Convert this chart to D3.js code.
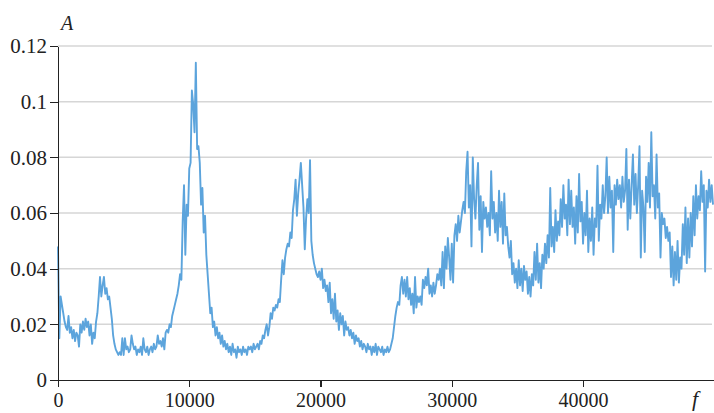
<!DOCTYPE html>
<html>
<head>
<meta charset="utf-8">
<title>Spectrum A(f)</title>
<script src="https://d3js.org/d3.v7.min.js"></script>
<style>
    body { margin: 0; background: #fff; }
    .axis path, .axis line { stroke: #222; stroke-width: 1.3px; shape-rendering: crispEdges; }
    .grid line { stroke: #d6d6d6; stroke-width: 1.5px; }
    .line { fill: none; stroke: #5ca4dc; stroke-width: 1.9px; stroke-linejoin: round; }
</style>
</head>
<body>
<svg id="chart"></svg>
<script>
// sampling of the spectrum (Hz)
var freqStart = 0;
var freqStep = 100;

// amplitude, one value per 100 Hz
var amplitude = [
    0.048, 0.015, 0.030, 0.027, 0.024, 0.021, 0.019, 0.018, 0.023, 0.017,
    0.019, 0.015, 0.018, 0.014, 0.017, 0.016, 0.012, 0.020, 0.017, 0.021,
    0.018, 0.022, 0.019, 0.021, 0.016, 0.020, 0.013, 0.017, 0.015, 0.021,
    0.024, 0.030, 0.037, 0.030, 0.034, 0.037, 0.031, 0.033, 0.029, 0.030,
    0.026, 0.022, 0.016, 0.013, 0.011, 0.010, 0.009, 0.010, 0.009, 0.015,
    0.009, 0.015, 0.011, 0.012, 0.010, 0.011, 0.016, 0.013, 0.011, 0.012,
    0.009, 0.011, 0.010, 0.012, 0.009, 0.015, 0.011, 0.010, 0.012, 0.009,
    0.011, 0.012, 0.010, 0.013, 0.011, 0.012, 0.016, 0.013, 0.014, 0.012,
    0.015, 0.011, 0.017, 0.018, 0.017, 0.020, 0.019, 0.023, 0.025, 0.027,
    0.029, 0.031, 0.034, 0.038, 0.036, 0.057, 0.070, 0.045, 0.063, 0.059,
    0.076, 0.078, 0.104, 0.099, 0.089, 0.114, 0.083, 0.084, 0.078, 0.063,
    0.069, 0.053, 0.059, 0.045, 0.038, 0.031, 0.024, 0.026, 0.019, 0.021,
    0.016, 0.019, 0.015, 0.017, 0.013, 0.016, 0.012, 0.014, 0.011, 0.013,
    0.010, 0.012, 0.009, 0.013, 0.010, 0.011, 0.008, 0.012, 0.010, 0.011,
    0.009, 0.012, 0.010, 0.011, 0.009, 0.012, 0.011, 0.012, 0.010, 0.013,
    0.011, 0.012, 0.013, 0.011, 0.014, 0.013, 0.016, 0.015, 0.018, 0.020,
    0.016, 0.019, 0.024, 0.022, 0.026, 0.025, 0.027, 0.026, 0.029, 0.028,
    0.036, 0.043, 0.038, 0.044, 0.047, 0.049, 0.048, 0.053, 0.051, 0.061,
    0.065, 0.072, 0.059, 0.067, 0.072, 0.078, 0.070, 0.062, 0.047, 0.058,
    0.065, 0.060, 0.079, 0.050, 0.045, 0.042, 0.040, 0.038, 0.037, 0.039,
    0.036, 0.040, 0.033, 0.036, 0.032, 0.034, 0.028, 0.035, 0.024, 0.029,
    0.022, 0.031, 0.021, 0.025, 0.018, 0.024, 0.020, 0.023, 0.016, 0.021,
    0.018, 0.019, 0.016, 0.018, 0.015, 0.017, 0.013, 0.016, 0.014, 0.015,
    0.012, 0.014, 0.011, 0.013, 0.012, 0.010, 0.013, 0.011, 0.012, 0.009,
    0.012, 0.010, 0.013, 0.009, 0.012, 0.011, 0.010, 0.012, 0.009, 0.011,
    0.010, 0.012, 0.010, 0.011, 0.013, 0.015, 0.019, 0.023, 0.026, 0.028,
    0.027, 0.034, 0.037, 0.031, 0.036, 0.030, 0.037, 0.029, 0.033, 0.027,
    0.031, 0.024, 0.037, 0.026, 0.030, 0.028, 0.030, 0.027, 0.036, 0.033,
    0.037, 0.034, 0.040, 0.031, 0.034, 0.030, 0.035, 0.031, 0.034, 0.038,
    0.036, 0.040, 0.034, 0.046, 0.033, 0.048, 0.040, 0.051, 0.044, 0.036,
    0.049, 0.035, 0.052, 0.056, 0.050, 0.059, 0.053, 0.057, 0.061, 0.064,
    0.060, 0.075, 0.082, 0.062, 0.070, 0.048, 0.080, 0.065, 0.058, 0.070,
    0.078, 0.054, 0.066, 0.046, 0.064, 0.058, 0.062, 0.055, 0.060, 0.052,
    0.075, 0.058, 0.064, 0.053, 0.060, 0.050, 0.068, 0.055, 0.064, 0.049,
    0.067, 0.052, 0.055, 0.048, 0.044, 0.050, 0.038, 0.042, 0.035, 0.040,
    0.033, 0.043, 0.034, 0.040, 0.032, 0.041, 0.036, 0.039, 0.031, 0.037,
    0.030, 0.038, 0.034, 0.046, 0.036, 0.049, 0.035, 0.042, 0.033, 0.045,
    0.040, 0.049, 0.042, 0.052, 0.044, 0.069, 0.048, 0.055, 0.046, 0.061,
    0.050, 0.057, 0.052, 0.065, 0.055, 0.070, 0.058, 0.063, 0.052, 0.072,
    0.056, 0.068, 0.055, 0.062, 0.049, 0.066, 0.053, 0.074, 0.057, 0.064,
    0.049, 0.060, 0.052, 0.068, 0.046, 0.058, 0.050, 0.062, 0.045, 0.058,
    0.055, 0.077, 0.050, 0.063, 0.058, 0.070, 0.060, 0.066, 0.080, 0.060,
    0.073, 0.062, 0.068, 0.046, 0.070, 0.063, 0.072, 0.065, 0.070, 0.062,
    0.073, 0.064, 0.068, 0.083, 0.054, 0.072, 0.058, 0.070, 0.081, 0.063,
    0.074, 0.060, 0.070, 0.084, 0.044, 0.068, 0.062, 0.046, 0.073, 0.064,
    0.078, 0.062, 0.089, 0.066, 0.070, 0.058, 0.081, 0.062, 0.067, 0.044,
    0.060, 0.056, 0.058, 0.051, 0.055, 0.050, 0.053, 0.037, 0.048, 0.034,
    0.046, 0.036, 0.050, 0.035, 0.044, 0.040, 0.056, 0.045, 0.062, 0.042,
    0.058, 0.044, 0.060, 0.048, 0.066, 0.052, 0.070, 0.058, 0.066, 0.061,
    0.075, 0.064, 0.070, 0.039, 0.068, 0.062, 0.072, 0.064, 0.070, 0.063
];

var xTicks = [0, 10000, 20000, 30000, 40000];
var yTicks = [0, 0.02, 0.04, 0.06, 0.08, 0.1, 0.12];
var yTickLabels = ["0", "0.02", "0.04", "0.06", "0.08", "0.1", "0.12"];

var serif = "'Liberation Serif', 'Times New Roman', serif";

var width = 714, height = 413;
var margin = { top: 46, right: 1, bottom: 33, left: 58 };

var svg = d3.select("#chart")
    .attr("width", width)
    .attr("height", height);

var data = amplitude.map(function(a, i) {
    return { f: freqStart + i * freqStep, a: a };
});

var x = d3.scaleLinear()
    .domain([0, d3.max(data, function(d) { return d.f; })])
    .range([margin.left, width - margin.right]);

var y = d3.scaleLinear()
    .domain([0, 0.12])
    .range([height - margin.bottom, margin.top]);

// horizontal grid
svg.append("g")
    .attr("class", "grid")
    .selectAll("line")
    .data(yTicks.slice(1))
    .enter()
    .append("line")
    .attr("x1", x.range()[0])
    .attr("x2", x.range()[1] - 1)
    .attr("y1", function(d) { return y(d); })
    .attr("y2", function(d) { return y(d); });

// spectrum line
svg.append("path")
    .datum(data)
    .attr("class", "line")
    .attr("d", d3.line()
        .x(function(d) { return x(d.f); })
        .y(function(d) { return y(d.a); }));

// axes
var xAxis = svg.append("g")
    .attr("class", "axis")
    .attr("transform", "translate(0," + y(0) + ")")
    .call(d3.axisBottom(x).tickValues(xTicks).tickSize(7).tickPadding(6).tickSizeOuter(0).tickFormat(d3.format("d")));

var yAxis = svg.append("g")
    .attr("class", "axis")
    .attr("transform", "translate(" + x(0) + ",0)")
    .call(d3.axisLeft(y).tickValues(yTicks).tickSize(8).tickPadding(3).tickSizeOuter(0)
        .tickFormat(function(d, i) { return yTickLabels[i]; }));

xAxis.attr("font-family", serif).attr("font-size", 20);
yAxis.attr("font-family", serif).attr("font-size", 21);
[xAxis, yAxis].forEach(function(g) {
    g.selectAll("text").attr("fill", "#222");
});

// axis names
svg.append("text")
    .attr("x", 61)
    .attr("y", 30)
    .attr("font-family", serif)
    .attr("font-style", "italic")
    .attr("font-size", 20)
    .attr("fill", "#222")
    .text("A");

svg.append("text")
    .attr("x", 692)
    .attr("y", 406)
    .attr("font-family", serif)
    .attr("font-style", "italic")
    .attr("font-size", 22)
    .attr("fill", "#222")
    .text("f");
</script>
</body>
</html>
